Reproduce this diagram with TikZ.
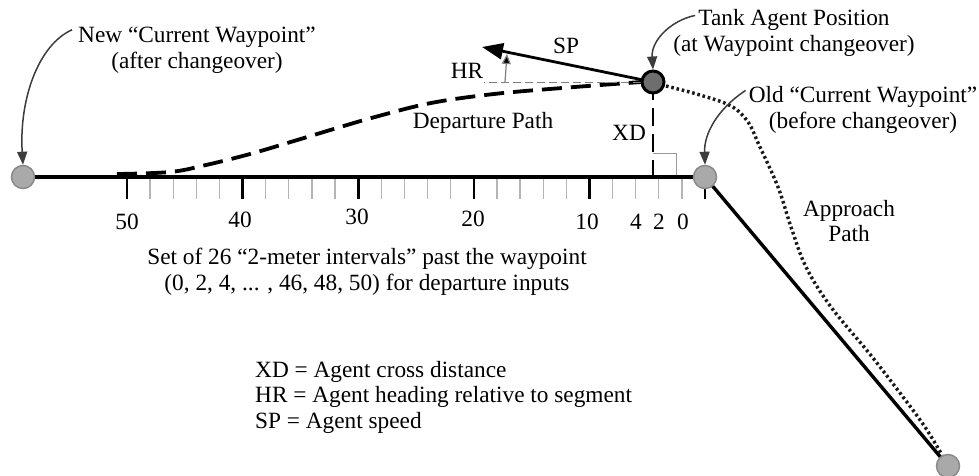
\documentclass[tikz,border=0pt]{standalone}
\usepackage{fontspec}
\setmainfont{Liberation Serif}
\usetikzlibrary{arrows.meta}
\definecolor{wpfill}{HTML}{A9A9A9}
\definecolor{wpedge}{HTML}{8A8A8A}
\definecolor{tankfill}{HTML}{6E6E6E}
\definecolor{lightick}{HTML}{B5B5B5}
\definecolor{callout}{HTML}{3C3C3C}
\tikzset{
  txt/.style={font=\fontsize{23.3}{25.5}\selectfont, align=center, inner sep=0pt},
  legend/.style={font=\fontsize{23.3}{25.5}\selectfont, align=left, inner sep=0pt, anchor=west},
  wp/.style={circle, fill=wpfill, draw=wpedge, line width=1.5pt, minimum size=23pt, inner sep=0pt},
  tank/.style={circle, fill=tankfill, draw=black, line width=3pt, minimum size=22pt, inner sep=0pt},
  seg/.style={line width=3.4pt, black},
  darktick/.style={line width=2.6pt, black},
  lighttick/.style={line width=1.3pt, lightick},
  dep/.style={line width=3.8pt, black, dash pattern=on 20pt off 9pt},
  xdline/.style={line width=2.6pt, black, dash pattern=on 18pt off 8pt},
  appr/.style={line width=3.4pt, black!90, dash pattern=on 2.6pt off 2.8pt},
  callarrow/.style={line width=1.5pt, callout, -{Triangle[length=13pt,width=10pt]}},
  sparrow/.style={line width=2.8pt, black, -{Triangle[length=21pt,width=16pt]}},
  hrline/.style={line width=1pt, gray, dash pattern=on 8pt off 4pt},
  hrarrow/.style={line width=1.2pt, gray, -{Triangle[length=10pt,width=9pt,fill=black]}},
  rabox/.style={line width=1pt, gray!80}
}
\begin{document}
\begin{tikzpicture}[x=1pt,y=-1pt]
\useasboundingbox (0,0) rectangle (979,475);
% key positions
\coordinate (L) at (23,177);
\coordinate (R) at (705,177);
\coordinate (E) at (948,466);
\coordinate (T) at (653,82);
\coordinate (foot) at (653,176);
% ticks
\foreach \i in {0,...,25}{
  \pgfmathsetmacro{\xx}{127+\i*23.12}
  \pgfmathtruncatemacro{\m}{mod(\i,5)}
  \ifnum\m=0
    \draw[darktick] (\xx,176) -- (\xx,199);
  \else
    \draw[lighttick] (\xx,176) -- (\xx,199);
  \fi
}
% right-angle box
\draw[rabox] (653,153) -- (676,153) -- (676,176);
% segments
\draw[seg] (L) -- (R);
\draw[seg] (R) -- (E);
% approach path (dotted)
\draw[appr] plot[smooth, tension=0.6] coordinates {(666,86) (700,95) (731,106) (748,122) (759,145) (778,187) (791,227) (806,267) (831,307) (869,353) (900,393) (925,427) (942,455)};
% departure path (dashed)
\draw[dep] plot[smooth, tension=0.6] coordinates {(117,174) (170,172) (206,165) (250,154) (294,141) (337,128) (375,117) (431,103) (494,94) (562,88) (641,82)};
% XD
\draw[xdline] (T) -- (foot);
% HR reference line and arrow
\coordinate (hrend) at (484,82);
\draw[hrline] (T) -- (hrend);
\coordinate (hrbase) at (505,82);
\coordinate (hrtip) at (507,54);
\draw[hrarrow] (hrbase) -- (hrtip);
% SP
\coordinate (sptip) at (482,47);
\draw[sparrow] (T) -- (sptip);
% waypoints
\node[wp] (wpL) at (L) {};
\node[wp] (wpR) at (R) {};
\node[wp] (wpE) at (E) {};
\node[tank] (tk) at (T) {};
% labels
\node[txt] (newlbl) at (197,50) {New “Current Waypoint”\\(after changeover)};
\node[txt] (tanklbl) at (794,33) {Tank Agent Position\\(at Waypoint changeover)};
\node[txt] (oldlbl) at (863,110) {Old “Current Waypoint”\\(before changeover)};
\node[txt] (applbl) at (849,221) {Approach\\Path};
\node[txt] (deplbl) at (483,123) {Departure Path};
\node[txt] (hrlbl) at (467,71) {HR};
\node[txt] (splbl) at (566,46) {SP};
\node[txt] (xdlbl) at (629,133) {XD};
% callout arrows
\draw[callarrow] (newlbl.north west) ++(-6,3) .. controls (38,45) and (19,100) .. (wpL.north);
\draw[callarrow] (tanklbl.north west) ++(22,6) .. controls (672,20) and (651,40) .. (tk.north);
\draw[callarrow] (oldlbl.north west) ++(-3,4) .. controls (716,110) and (704,135) .. (wpR.north);
% scale labels
\foreach \x/\y/\t in {127/222/50, 240/220/40, 357/217/30, 473/219/20, 587/222/10, 636/222/4, 659/222/2, 683/222/0}{
  \node[txt] at (\x,\y) {\t};
}
\node[txt] (setlbl) at (367,272) {Set of 26 “2-meter intervals” past the waypoint\\(0, 2, 4, ... , 46, 48, 50) for departure inputs};
\node[legend] (leg) at (255,397) {XD = Agent cross distance\\HR = Agent heading relative to segment\\SP = Agent speed};
\end{tikzpicture}
\end{document}
